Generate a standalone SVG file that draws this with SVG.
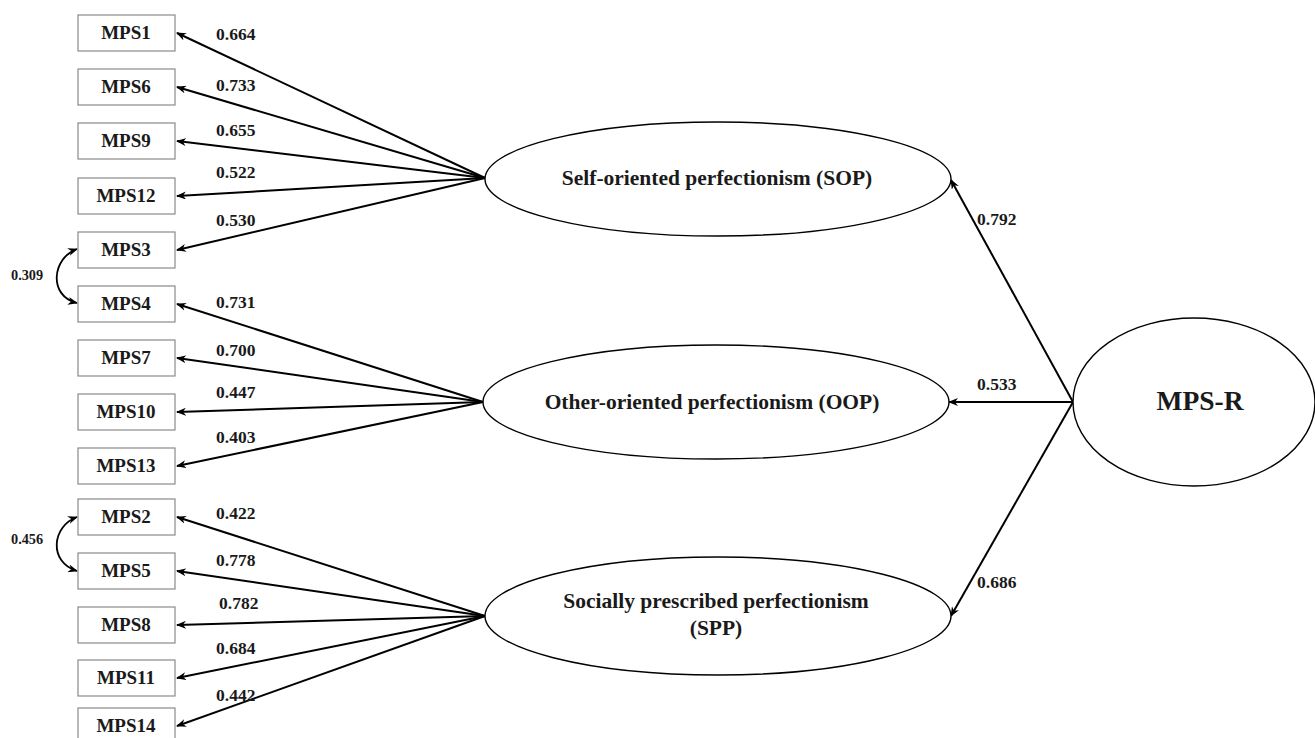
<svg xmlns="http://www.w3.org/2000/svg" width="1315" height="738" viewBox="0 0 1315 738">
<defs>
<marker id="ah" markerWidth="10" markerHeight="8" refX="9" refY="4" orient="auto" markerUnits="userSpaceOnUse">
<path d="M0,0 L10,4 L0,8 L3,4 z" fill="#000"/>
</marker>
<marker id="ahs" markerWidth="10" markerHeight="8" refX="1" refY="4" orient="auto" markerUnits="userSpaceOnUse">
<path d="M10,0 L0,4 L10,8 L7,4 z" fill="#000"/>
</marker>
<style>
.box{fill:#fff;stroke:#8a8a8a;stroke-width:1.2}
.lat{fill:#fff;stroke:#000;stroke-width:1.4}
.bt{font-family:"Liberation Serif",serif;font-weight:bold;font-size:19px;text-anchor:middle;fill:#1a1a1a}
.lt{font-family:"Liberation Serif",serif;font-weight:bold;font-size:21.5px;text-anchor:middle;fill:#1a1a1a}
.nt{font-family:"Liberation Serif",serif;font-weight:bold;font-size:17.5px;fill:#1a1a1a}
.ct{font-family:"Liberation Serif",serif;font-weight:bold;font-size:14.3px;fill:#1a1a1a}
.c{fill:none;stroke:#000;stroke-width:2;marker-end:url(#ah)}
.cv{fill:none;stroke:#000;stroke-width:1.8;marker-start:url(#ahs);marker-end:url(#ah)}
</style>
</defs>
<rect width="1315" height="738" fill="#fff"/>

<g id="connectors">
<path class="c" d="M485,178 L177,33"/>
<path class="c" d="M485,178 L177,87"/>
<path class="c" d="M485,178 L177,141"/>
<path class="c" d="M485,178 L177,196"/>
<path class="c" d="M485,178 L177,250"/>
<path class="c" d="M483,402 L177,304"/>
<path class="c" d="M483,402 L177,358"/>
<path class="c" d="M483,402 L177,412"/>
<path class="c" d="M483,402 L177,466"/>
<path class="c" d="M485,616 L177,517"/>
<path class="c" d="M485,616 L177,571"/>
<path class="c" d="M485,616 L177,625"/>
<path class="c" d="M485,616 L177,678"/>
<path class="c" d="M485,616 L177,726"/>
<path class="c" d="M1073,402 L951,180"/>
<path class="c" d="M1073,402 L949,402"/>
<path class="c" d="M1073,402 L951,616"/>
<path class="cv" d="M77,249 C52,258 48,296 77,303"/>
<path class="cv" d="M77,517 C52,526 48,562 77,571"/>
</g>

<g id="labels">
<text class="nt" x="216" y="40">0.664</text>
<text class="nt" x="216" y="91">0.733</text>
<text class="nt" x="216" y="136">0.655</text>
<text class="nt" x="216" y="178">0.522</text>
<text class="nt" x="216" y="226">0.530</text>
<text class="nt" x="216" y="308">0.731</text>
<text class="nt" x="216" y="356">0.700</text>
<text class="nt" x="216" y="398">0.447</text>
<text class="nt" x="216" y="443">0.403</text>
<text class="nt" x="216" y="519">0.422</text>
<text class="nt" x="216" y="566">0.778</text>
<text class="nt" x="219" y="609">0.782</text>
<text class="nt" x="216" y="654">0.684</text>
<text class="nt" x="216" y="701">0.442</text>
<text class="nt" x="977" y="225">0.792</text>
<text class="nt" x="977" y="390">0.533</text>
<text class="nt" x="977" y="588">0.686</text>
<text class="ct" x="11" y="280">0.309</text>
<text class="ct" x="11" y="544">0.456</text>
</g>

<g id="MPS1"><rect class="box" x="78" y="15" width="97" height="36"/><text class="bt" x="126" y="39">MPS1</text></g>
<g id="MPS6"><rect class="box" x="78" y="69" width="97" height="36"/><text class="bt" x="126" y="93">MPS6</text></g>
<g id="MPS9"><rect class="box" x="78" y="123" width="97" height="36"/><text class="bt" x="126" y="147">MPS9</text></g>
<g id="MPS12"><rect class="box" x="78" y="178" width="97" height="36"/><text class="bt" x="126" y="202">MPS12</text></g>
<g id="MPS3"><rect class="box" x="78" y="232" width="97" height="36"/><text class="bt" x="126" y="256">MPS3</text></g>
<g id="MPS4"><rect class="box" x="78" y="286" width="97" height="36"/><text class="bt" x="126" y="310">MPS4</text></g>
<g id="MPS7"><rect class="box" x="78" y="340" width="97" height="36"/><text class="bt" x="126" y="364">MPS7</text></g>
<g id="MPS10"><rect class="box" x="78" y="394" width="97" height="36"/><text class="bt" x="126" y="418">MPS10</text></g>
<g id="MPS13"><rect class="box" x="78" y="448" width="97" height="36"/><text class="bt" x="126" y="472">MPS13</text></g>
<g id="MPS2"><rect class="box" x="78" y="499" width="97" height="36"/><text class="bt" x="126" y="523">MPS2</text></g>
<g id="MPS5"><rect class="box" x="78" y="553" width="97" height="36"/><text class="bt" x="126" y="577">MPS5</text></g>
<g id="MPS8"><rect class="box" x="78" y="607" width="97" height="36"/><text class="bt" x="126" y="631">MPS8</text></g>
<g id="MPS11"><rect class="box" x="78" y="660" width="97" height="36"/><text class="bt" x="126" y="684">MPS11</text></g>
<g id="MPS14"><rect class="box" x="78" y="708" width="97" height="36"/><text class="bt" x="126" y="732">MPS14</text></g>

<g id="SOP"><ellipse class="lat" cx="718" cy="179" rx="233" ry="57"/><text class="lt" x="717" y="185">Self-oriented perfectionism (SOP)</text></g>
<g id="OOP"><ellipse class="lat" cx="716" cy="402" rx="233" ry="57"/><text class="lt" x="712" y="409">Other-oriented perfectionism (OOP)</text></g>
<g id="SPP"><ellipse class="lat" cx="718" cy="616" rx="233" ry="59"/><text class="lt" x="716" y="608">Socially prescribed perfectionism</text><text class="lt" x="716" y="635">(SPP)</text></g>
<g id="MPSR"><ellipse class="lat" cx="1194" cy="402" rx="121" ry="84"/><text class="lt" x="1200" y="410" style="font-size:27.5px">MPS-R</text></g>
</svg>
